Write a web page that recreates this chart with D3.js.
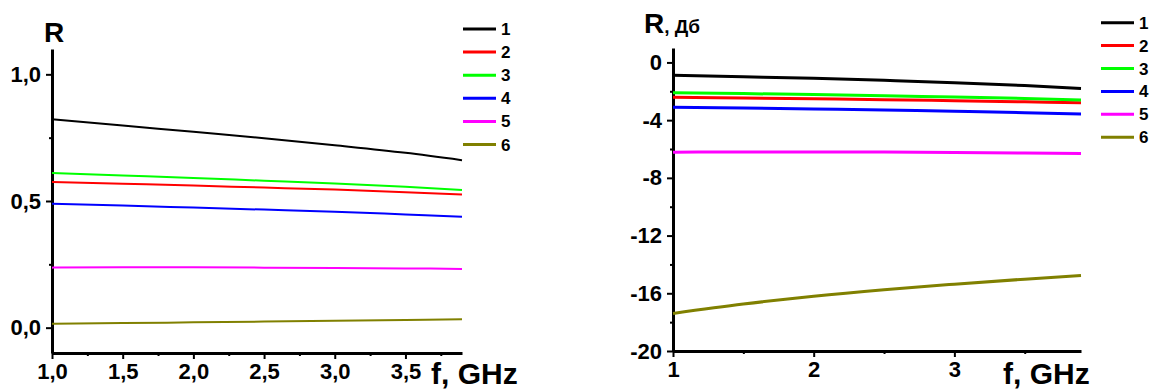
<!DOCTYPE html>
<html><head><meta charset="utf-8">
<script src="https://cdn.jsdelivr.net/npm/d3@7"></script>
<style>body{margin:0;background:#fff}svg{display:block}text{font-family:"Liberation Sans",Arial,sans-serif;font-weight:bold;fill:#000}</style>
</head><body>
<script>
const freqs = [1, 1.5, 2, 2.5, 3, 3.5, 3.9];
const seriesNames = ["1", "2", "3", "4", "5", "6"];
const colors = ["#000000", "#ff0000", "#00ff00", "#0000ff", "#ff00ff", "#808000"];
// Left panel: R (linear)
const linR1 = [0.823, 0.798, 0.773, 0.748, 0.72, 0.69, 0.661];
const linR2 = [0.575, 0.568, 0.561, 0.553, 0.545, 0.535, 0.526];
const linR3 = [0.611, 0.601, 0.591, 0.58, 0.569, 0.556, 0.543];
const linR4 = [0.489, 0.482, 0.474, 0.466, 0.458, 0.447, 0.438];
const linR5 = [0.237, 0.238, 0.238, 0.237, 0.236, 0.234, 0.232];
const linR6 = [0.015, 0.018, 0.021, 0.024, 0.027, 0.030, 0.033];
// Right panel: R, dB
const dbR1 = [-0.88, -0.99, -1.1, -1.24, -1.4, -1.6, -1.8];
const dbR2 = [-2.41, -2.46, -2.52, -2.58, -2.65, -2.73, -2.8];
const dbR3 = [-2.1, -2.16, -2.23, -2.31, -2.4, -2.5, -2.61];
const dbR4 = [-3.1, -3.16, -3.23, -3.3, -3.38, -3.48, -3.58];
const dbR5 = [-6.22, -6.2, -6.2, -6.21, -6.24, -6.28, -6.31];
const dbR6 = [-17.4, -16.75, -16.2, -15.75, -15.37, -15.02, -14.77];
const leftXTicks = [1.0, 1.5, 2.0, 2.5, 3.0, 3.5];
const leftYTicks = [0.0, 0.5, 1.0];
const rightXTicks = [1, 2, 3];
const rightYTicks = [0, -4, -8, -12, -16, -20];

const W = 1149, H = 392;
const svg = d3.select("body").append("svg").attr("width", W).attr("height", H);

function panel(o) {
  const x = d3.scaleLinear().domain(o.xDomain).range([o.x0, o.x1]);
  const y = d3.scaleLinear().domain(o.yDomain).range([o.y0, o.y1]);
  const g = svg.append("g");
  const xAxisMinor = d3.axisBottom(x).tickValues(o.xMinor).tickSize(3).tickFormat("");
  const yAxisMinor = d3.axisLeft(y).tickValues(o.yMinor).tickSize(3).tickFormat("");
  g.append("g").attr("transform", `translate(0,${o.y0})`).call(xAxisMinor).call(s => s.select(".domain").remove()).selectAll("line").attr("stroke-width", 2);
  g.append("g").attr("transform", `translate(${o.x0},0)`).call(yAxisMinor).call(s => s.select(".domain").remove()).selectAll("line").attr("stroke-width", 2);
  const xAxis = d3.axisBottom(x).tickValues(o.xTicks).tickSize(6).tickSizeOuter(0).tickPadding(4).tickFormat(o.xFmt);
  const yAxis = d3.axisLeft(y).tickValues(o.yTicks).tickSize(6).tickSizeOuter(0).tickPadding(5).tickFormat(o.yFmt);
  const gx = g.append("g").attr("transform", `translate(0,${o.y0})`).call(xAxis);
  const gy = g.append("g").attr("transform", `translate(${o.x0},0)`).call(yAxis);
  [gx, gy].forEach(a => {
    a.select(".domain").attr("stroke-width", 3);
    a.selectAll(".tick line").attr("stroke-width", 2);
    a.selectAll("text").style("font-size", o.tickFont + "px").style("font-family", '"Liberation Sans",Arial,sans-serif').style("font-weight", "bold");
  });
  const line = d3.line().x((d, i) => x(freqs[i])).y(d => y(d)).curve(d3.curveMonotoneX);
  o.series.forEach((s, i) => {
    g.append("path").datum(s).attr("d", line).attr("fill", "none").attr("stroke", colors[i]).attr("stroke-width", o.lw);
  });
  seriesNames.forEach((n, i) => {
    const ly = o.legY + i * o.legStep;
    g.append("line").attr("x1", o.legX).attr("x2", o.legX + 33).attr("y1", ly).attr("y2", ly).attr("stroke", colors[i]).attr("stroke-width", 3);
    g.append("text").attr("x", o.legX + 38).attr("y", ly + 6).style("font-size", "17px").text(n);
  });
  return {x, y, g};
}

const fmtComma1 = d => d3.format(".1f")(d).replace(".", ",");
const fmtInt = d => String(d);

const L = panel({
  xDomain: [1, 3.9], yDomain: [-0.1, 1.1],
  x0: 52, x1: 462, y0: 353, y1: 49,
  xTicks: leftXTicks, yTicks: leftYTicks,
  xMinor: [1.25, 1.75, 2.25, 2.75, 3.25, 3.75], yMinor: [0.25, 0.75],
  xFmt: fmtComma1, yFmt: fmtComma1, tickFont: 22,
  series: [linR1, linR2, linR3, linR4, linR5, linR6], lw: 2,
  legX: 463, legY: 29, legStep: 23.1
});
L.g.append("text").attr("x", 44).attr("y", 42).style("font-size", "28px").text("R");
L.g.append("text").attr("x", 431).attr("y", 384).style("font-size", "30px").text("f, GHz");

const R = panel({
  xDomain: [1, 3.9], yDomain: [-20, 1],
  x0: 673, x1: 1081, y0: 351, y1: 48,
  xTicks: rightXTicks, yTicks: rightYTicks,
  xMinor: [1.5, 2.5, 3.5], yMinor: [-2, -6, -10, -14, -18],
  xFmt: fmtInt, yFmt: fmtInt, tickFont: 22,
  series: [dbR1, dbR2, dbR3, dbR4, dbR5, dbR6], lw: 3,
  legX: 1101, legY: 22.7, legStep: 22.9
});
const rl = R.g.append("text").attr("x", 644).attr("y", 33).style("font-size", "28px");
rl.append("tspan").text("R");
rl.append("tspan").style("font-size", "19px").text(", Дб");
R.g.append("text").attr("x", 1003).attr("y", 384).style("font-size", "30px").text("f, GHz");
</script>
</body></html>
